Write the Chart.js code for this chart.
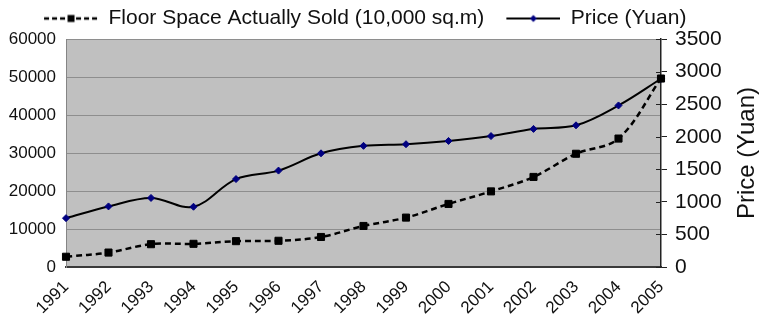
<!DOCTYPE html>
<html>
<head>
<meta charset="utf-8">
<script src="https://cdn.jsdelivr.net/npm/chart.js@4/dist/chart.umd.min.js"></script>
<style>
  html, body { margin: 0; padding: 0; background: #ffffff; }
  #wrap { width: 763px; height: 326px; position: relative; }
</style>
</head>
<body>
<div id="wrap"><canvas id="chart" width="763" height="326"></canvas></div>
<script>
// Years on the category axis
const years = ['1991', '1992', '1993', '1994', '1995', '1996', '1997', '1998',
               '1999', '2000', '2001', '2002', '2003', '2004', '2005'];

// Floor space actually sold, 10,000 sq.m (left axis)
const floorSpace = [2700, 3800, 6000, 6100, 6800, 6900, 7900, 10800,
                    13000, 16600, 19900, 23700, 29800, 33800, 49600];

// Average price, Yuan (right axis)
const price = [750, 930, 1060, 925, 1350, 1480, 1745, 1860,
               1885, 1935, 2010, 2120, 2175, 2480, 2890];

// Axis ranges and tick steps
const floorTicks = { min: 0, max: 60000, step: 10000 };
const priceTicks = { min: 0, max: 3500, step: 500 };

const seriesNames = ['Floor Space Actually Sold (10,000 sq.m)', 'Price (Yuan)'];
const priceAxisTitle = 'Price (Yuan)';

const FONT = '"Liberation Sans", Arial, sans-serif';
const INK = '#111111';

// Legend symbols: a short line segment with the series marker in the middle
function legendSymbol(dashed) {
  const c = document.createElement('canvas');
  c.width = 70; c.height = 12;
  const g = c.getContext('2d');
  const x0 = 16, x1 = 70, cy = 6;
  g.strokeStyle = '#000';
  g.lineWidth = dashed ? 2.5 : 2;
  g.setLineDash(dashed ? [5, 3] : []);
  g.beginPath(); g.moveTo(x0, cy); g.lineTo(x1, cy); g.stroke();
  g.setLineDash([]);
  const mx = (x0 + x1) / 2;
  if (dashed) {
    g.fillStyle = '#000';
    g.fillRect(mx - 3.5, cy - 3.5, 7, 7);
  } else {
    g.fillStyle = '#000080';
    g.beginPath();
    g.moveTo(mx, cy - 3.5); g.lineTo(mx + 3.5, cy); g.lineTo(mx, cy + 3.5); g.lineTo(mx - 3.5, cy);
    g.closePath(); g.fill();
  }
  return c;
}
const legendIcons = [legendSymbol(true), legendSymbol(false)];

// Grey plot background
const plotBackground = {
  id: 'plotBackground',
  beforeDraw(chart) {
    const { ctx, chartArea: a } = chart;
    ctx.save();
    ctx.fillStyle = '#c0c0c0';
    ctx.fillRect(a.left, a.top, a.right - a.left, a.bottom - a.top);
    ctx.restore();
  }
};

// Right axis: tick marks crossing the axis line, and an upward-reading title
const priceAxisDecor = {
  id: 'priceAxisDecor',
  afterDraw(chart) {
    const { ctx } = chart;
    const s = chart.scales.y2;
    ctx.save();
    ctx.strokeStyle = '#222';
    ctx.lineWidth = 1;
    s.ticks.forEach(t => {
      const y = Math.round(s.getPixelForValue(t.value)) + 0.5;
      ctx.beginPath(); ctx.moveTo(s.left - 5, y); ctx.lineTo(s.left, y); ctx.stroke();
    });
    ctx.fillStyle = INK;
    ctx.font = '24px ' + FONT;
    ctx.textAlign = 'center';
    ctx.textBaseline = 'middle';
    ctx.translate(747, (chart.chartArea.top + chart.chartArea.bottom) / 2);
    ctx.rotate(-Math.PI / 2);
    ctx.fillText(priceAxisTitle, 0, 0);
    ctx.restore();
  }
};

const plainNumber = v => String(v);

new Chart(document.getElementById('chart'), {
  type: 'line',
  data: {
    labels: years,
    datasets: [
      {
        label: seriesNames[0],
        data: floorSpace,
        yAxisID: 'y',
        borderColor: '#000',
        borderWidth: 2.5,
        borderDash: [6, 4],
        tension: 0.35,
        pointStyle: 'rect',
        pointRadius: 5,
        pointBorderWidth: 1,
        pointBackgroundColor: '#000',
        pointBorderColor: '#000'
      },
      {
        label: seriesNames[1],
        data: price,
        yAxisID: 'y2',
        borderColor: '#000',
        borderWidth: 2,
        tension: 0.35,
        pointStyle: 'rectRot',
        pointRadius: 3.5,
        pointBorderWidth: 1,
        pointBackgroundColor: '#000080',
        pointBorderColor: '#000080'
      }
    ]
  },
  options: {
    responsive: false,
    animation: false,
    events: [],
    // the legend row sits a little left of the canvas centre
    layout: { padding: { top: 2, right: 0, left: -48.6, bottom: 0 } },
    plugins: {
      tooltip: { enabled: false },
      legend: {
        position: 'top',
        align: 'center',
        labels: {
          usePointStyle: true,
          pointStyleWidth: 70,
          padding: 6,
          color: INK,
          font: { family: FONT, size: 21 },
          generateLabels(chart) {
            const items = Chart.defaults.plugins.legend.labels.generateLabels(chart);
            items.forEach((it, i) => { it.pointStyle = legendIcons[i]; });
            return items;
          }
        }
      }
    },
    scales: {
      x: {
        offset: false,
        grid: { display: false },
        border: { display: true, color: '#3a3a3a', width: 2 },
        ticks: {
          autoSkip: false,
          maxRotation: 45,
          minRotation: 45,
          padding: 2,
          color: INK,
          font: { family: FONT, size: 17 }
        },
        afterFit(s) { s.height = 59; }
      },
      y: {
        position: 'left',
        min: floorTicks.min,
        max: floorTicks.max,
        ticks: {
          stepSize: floorTicks.step,
          padding: 10,
          color: INK,
          font: { family: FONT, size: 17 },
          callback: plainNumber
        },
        grid: { color: '#8e8e8e', lineWidth: 1, drawTicks: false },
        border: { display: true, color: '#858585', width: 1 },
        afterFit(s) { s.width = 114.6; }
      },
      y2: {
        position: 'right',
        min: priceTicks.min,
        max: priceTicks.max,
        ticks: {
          stepSize: priceTicks.step,
          padding: 8,
          color: INK,
          font: { family: FONT, size: 21 },
          callback: plainNumber
        },
        grid: { drawOnChartArea: false, drawTicks: true, tickLength: 6, color: '#222' },
        border: { display: true, color: '#222', width: 1.5 },
        afterFit(s) { s.width = 102; }
      }
    }
  },
  plugins: [plotBackground, priceAxisDecor]
});
</script>
</body>
</html>
